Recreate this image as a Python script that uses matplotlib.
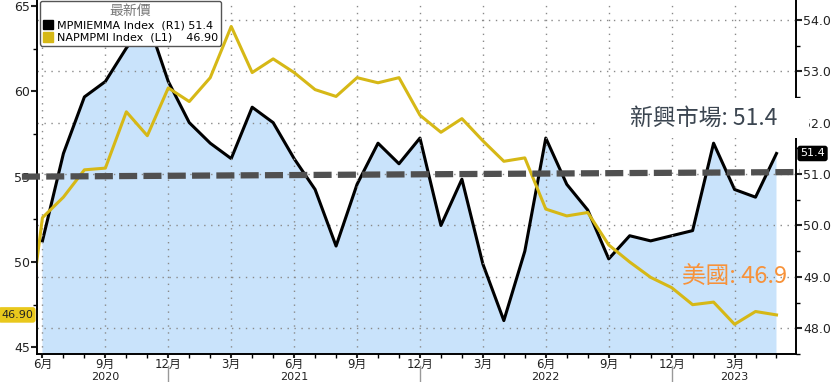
import matplotlib
matplotlib.use("Agg")
import matplotlib.pyplot as plt
from matplotlib.patches import Patch, Rectangle
from matplotlib.lines import Line2D
import numpy as np

plt.rcParams['font.family'] = ['DejaVu Sans', 'Noto Sans CJK TC']
plt.rcParams['lines.scale_dashes'] = False

# months: May 2020 .. May 2023
years  = [2020]*8 + [2021]*12 + [2022]*12 + [2023]*5
months = list(range(5, 13)) + list(range(1, 13))*2 + list(range(1, 6))

# NAPMPMI (ISM manufacturing, left axis), May 2020 - May 2023
napmpmi = [43.1, 52.6, 53.8, 55.4, 55.5, 58.8, 57.4, 60.2,
           59.4, 60.8, 63.8, 61.1, 61.9, 61.1, 60.1, 59.7, 60.8, 60.5, 60.8, 58.6,
           57.6, 58.4, 57.1, 55.9, 56.1, 53.1, 52.7, 52.9, 51.0, 50.0, 49.1, 48.5,
           47.5, 47.65, 46.35, 47.1, 46.9]

# MPMIEMMA (EM manufacturing PMI, right axis), Jun 2020 - May 2023
mpmiemma = [49.7, 51.4, 52.5, 52.8, 53.45, 54.0, 52.8,
            52.0, 51.6, 51.3, 52.3, 52.0, 51.3, 50.7, 49.6, 50.8, 51.6, 51.2, 51.7,
            50.0, 50.9, 49.25, 48.15, 49.5, 51.7, 50.8, 50.3, 49.35, 49.8, 49.7, 49.8,
            49.9, 51.6, 50.7, 50.55, 51.4]

threshold = [55.0, 55.27]   # hand-drawn 50-line, slightly tilted (left axis units)
year_label_pos = {2020: 3, 2021: 12, 2022: 24, 2023: 33}

x_all = np.arange(len(napmpmi)) - 1        # Jun 2020 = 0
x_em = np.arange(len(mpmiemma))

yellow = '#d6b816'
blue_fill = '#c9e3fb'

fig = plt.figure(figsize=(8.39, 3.82), dpi=100)
ax = fig.add_axes([37/839, 1 - 354/382, (796 - 37)/839, 354/382])
ax2 = ax.twinx()
ax.set_zorder(ax2.get_zorder() + 1)
ax.patch.set_visible(False)

# right axis: EM PMI with fill
ax2.fill_between(x_em, mpmiemma, 40, color=blue_fill, lw=0, zorder=1)
ax2.plot(x_em, mpmiemma, color='black', lw=2.2, zorder=3)
ax2.set_ylim(47.571, 54.385)
ax2.set_yticks(np.arange(48, 55, 1.0))
ax2.set_yticks(np.arange(47.5, 54.5, 0.5), minor=True)
ax2.yaxis.set_major_formatter(matplotlib.ticker.FormatStrFormatter('%.1f'))
ax2.set_axisbelow(False)
ax2.grid(axis='y', which='major', color='#8a8a8a', lw=1, linestyle=(0, (1, 4)))

# left axis: ISM
ax.plot(x_all, napmpmi, color=yellow, lw=2.2, zorder=2)
ax.set_ylim(44.61, 65.35)
ax.set_yticks([45, 50, 55, 60, 65])
ax.set_yticks(np.arange(47.5, 65, 5), minor=True)
ax.set_xlim(-0.26, 35.93)

major_idx = [i for i in range(len(months)) if months[i] % 3 == 0]
ax.set_xticks([x_all[i] for i in major_idx])
ax.set_xticklabels([f"{months[i]}月" for i in major_idx])
ax.set_xticks(x_all[1:], minor=True)
ax.grid(axis='x', which='major', color='#8a8a8a', lw=1, linestyle=(0, (1, 4)))

for a in (ax, ax2):
    a.spines['top'].set_visible(False)
    a.tick_params(which='major', direction='out', length=4, width=1.5,
                  labelsize=9, colors='#222222', pad=1)
    a.tick_params(which='minor', direction='out', length=3, width=1)
for s in ('left', 'right', 'bottom'):
    ax2.spines[s].set_linewidth(1.2)
    ax.spines[s].set_linewidth(1.2)
ax.tick_params(axis='x', which='major', length=3, pad=0, labelsize=8.5)

# year labels and separators
trans = matplotlib.transforms.blended_transform_factory(ax.transData, ax.transAxes)
for yr, xpos in year_label_pos.items():
    ax.text(xpos, -0.066, str(yr), transform=trans, ha='center', va='center',
            fontsize=8, color='#222222')
for i in range(len(months)):
    if months[i] == 12:
        ax.add_line(Line2D([x_all[i], x_all[i]], [-0.035, -0.09], transform=trans,
                           color='#999999', lw=1, clip_on=False))

# thick dashed line
ax.add_line(Line2D([-0.98, 36.12], threshold, color='#505050', lw=4.5,
                   dashes=(13, 4.5), clip_on=False, zorder=5))

# legend
handles = [Patch(facecolor='black', edgecolor='black'),
           Patch(facecolor=yellow, edgecolor=yellow)]
leg = ax.legend(handles, ['MPMIEMMA Index  (R1) 51.4', 'NAPMPMI Index  (L1)    46.90'],
                title='最新價', loc='upper left', bbox_to_anchor=(0.004, 0.998),
                fontsize=8, title_fontsize=10, handlelength=0.9, handleheight=0.9,
                handletextpad=0.4, borderpad=0.25, labelspacing=0.2,
                frameon=True, fancybox=True, framealpha=1, edgecolor='#555555',
                borderaxespad=0)
leg.get_title().set_color('#777777')
leg.set_zorder(10)

# last-value tags
ax.annotate('46.90', xy=(0, 46.9), xycoords=('axes fraction', 'data'),
            xytext=(-3, 0), textcoords='offset points', ha='right', va='center',
            fontsize=8, color='#222222',
            bbox=dict(boxstyle='round,pad=0.25', fc='#e9c81c', ec='none'),
            annotation_clip=False)
ax2.annotate('51.4', xy=(1, 51.4), xycoords=('axes fraction', 'data'),
             xytext=(3, 0), textcoords='offset points', ha='left', va='center',
             fontsize=8, color='white',
             bbox=dict(boxstyle='round,pad=0.25', fc='black', ec='none'),
             annotation_clip=False)

# callouts
fig.add_artist(Rectangle((600/839, 1 - 138/382), 209/839, 40/382,
                         transform=fig.transFigure, fc='white', ec='none', zorder=20))
fig.text(630/839, 1 - 118/382, '新興市場: 51.4', fontsize=16.5, color='#3b4550',
         family=['Noto Sans CJK TC', 'DejaVu Sans'], ha='left', va='center', zorder=21)
fig.text(682/839, 1 - 277/382, '美國: 46.9', fontsize=17, color='#f7923a',
         family=['Noto Sans CJK TC', 'DejaVu Sans'], ha='left', va='center', zorder=21)

fig.savefig('out.png', dpi=100)
